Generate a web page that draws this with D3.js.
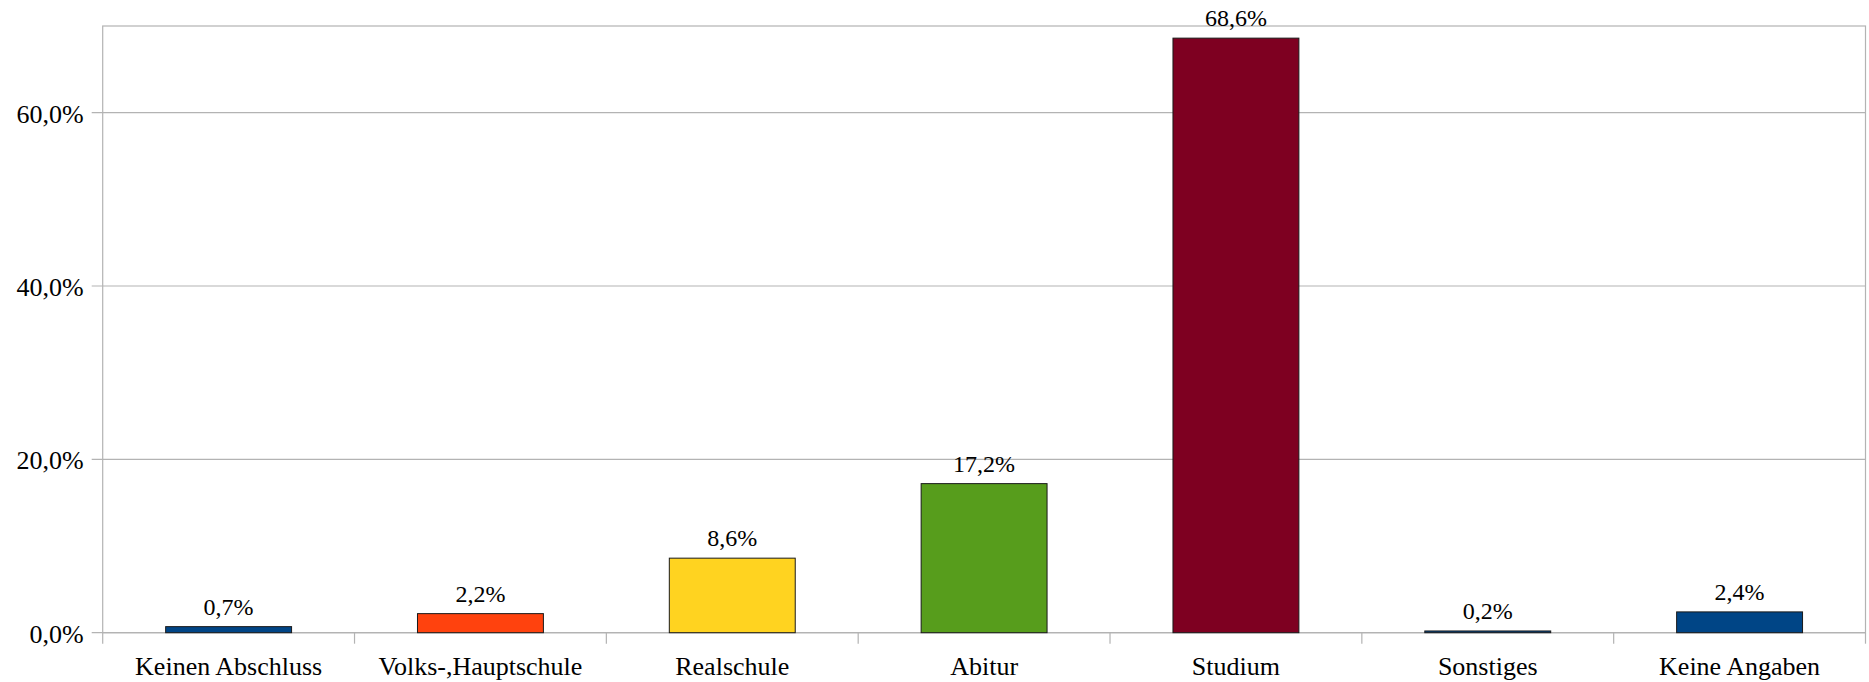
<!DOCTYPE html>
<html>
<head>
<meta charset="utf-8">
<script src="https://cdn.jsdelivr.net/npm/d3@7"></script>
<style>
  html, body { margin: 0; padding: 0; background: #fff; }
  svg { display: block; }
</style>
</head>
<body>
<svg id="chart" width="1869" height="682"></svg>
<script>
const categories = ["Keinen Abschluss", "Volks-,Hauptschule", "Realschule", "Abitur", "Studium", "Sonstiges", "Keine Angaben"];
const values = [0.7, 2.2, 8.6, 17.2, 68.6, 0.2, 2.4];
const colors = ["#004586", "#ff420e", "#ffd320", "#579d1c", "#7e0021", "#004586", "#004586"];
const yTicks = [0, 20, 40, 60];
const yMax = 70;

const W = 1869, H = 682;
const margin = { top: 26, right: 3.5, bottom: 49.3, left: 102.7 };
const iw = W - margin.left - margin.right;
const ih = H - margin.top - margin.bottom;
const FONT = "'Liberation Serif', 'Times New Roman', 'DejaVu Serif', serif";

const fmt = v => v.toFixed(1).replace(".", ",") + "%";

const svg = d3.select("#chart");
const g = svg.append("g").attr("transform", `translate(${margin.left},${margin.top})`)
  .attr("font-family", FONT).style("font-family", FONT);

const x = d3.scaleBand().domain(categories).range([0, iw]).paddingInner(0.5).paddingOuter(0.25);
const y = d3.scaleLinear().domain([0, yMax]).range([ih, 0]);

// gridlines
g.append("g").selectAll("line").data(yTicks).join("line")
  .attr("x1", -11).attr("x2", iw)
  .attr("y1", d => y(d)).attr("y2", d => y(d))
  .attr("stroke", "#b3b3b3").attr("stroke-width", 1.2);

// plot border
g.append("rect").attr("x", 0).attr("y", 0).attr("width", iw).attr("height", ih)
  .attr("fill", "none").attr("stroke", "#b3b3b3").attr("stroke-width", 1.2);

// category ticks
const step = iw / categories.length;
g.append("g").selectAll("line").data(d3.range(categories.length + 1)).join("line")
  .attr("x1", i => i * step).attr("x2", i => i * step)
  .attr("y1", ih).attr("y2", ih + 11)
  .attr("stroke", "#b3b3b3").attr("stroke-width", 1.2);

// y tick labels
g.append("g").selectAll("text").data(yTicks).join("text")
  .attr("x", -19).attr("y", d => y(d)).attr("dy", "0.38em")
  .attr("text-anchor", "end").attr("fill", "#000").style("font-size", "26px")
  .text(d => fmt(d));

// bars
g.append("g").selectAll("rect").data(values).join("rect")
  .attr("x", (d, i) => x(categories[i]))
  .attr("width", x.bandwidth())
  .attr("y", d => y(d))
  .attr("height", d => ih - y(d))
  .attr("fill", (d, i) => colors[i])
  .attr("stroke", "#1a1a1a").attr("stroke-width", 1);

// value labels
g.append("g").selectAll("text").data(values).join("text")
  .attr("x", (d, i) => x(categories[i]) + x.bandwidth() / 2)
  .attr("y", d => y(d) - 12)
  .attr("text-anchor", "middle").attr("fill", "#000").style("font-size", "24px")
  .text(d => fmt(d));

// category labels
g.append("g").selectAll("text").data(categories).join("text")
  .attr("x", d => x(d) + x.bandwidth() / 2)
  .attr("y", ih + 42)
  .attr("text-anchor", "middle").attr("fill", "#000").style("font-size", "26px")
  .text(d => d);
</script>
</body>
</html>
